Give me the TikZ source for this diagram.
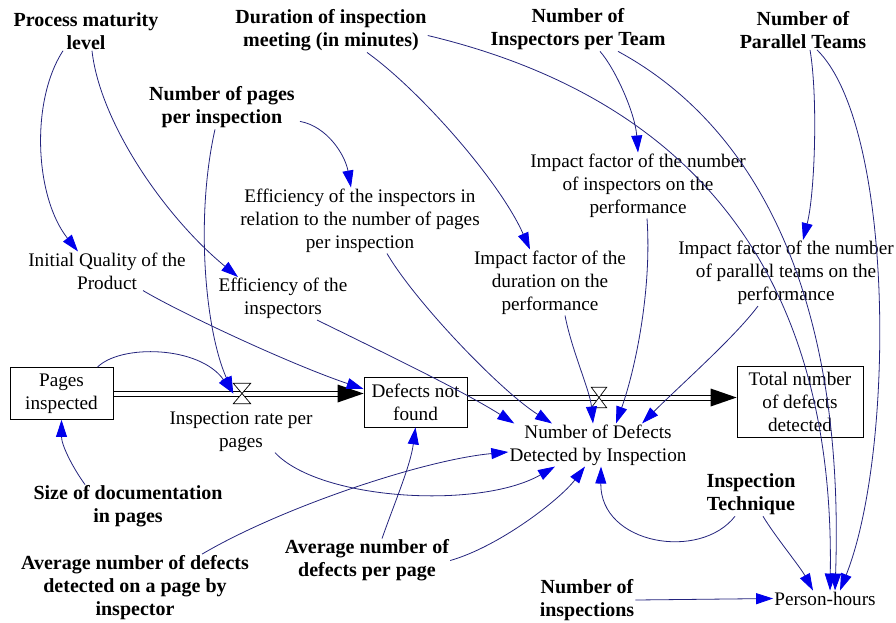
\documentclass[tikz,border=0pt]{standalone}
\usepackage{fontspec}
\setmainfont{Liberation Serif}
\usetikzlibrary{arrows.meta}

\definecolor{linkblue}{RGB}{35,35,125}
\definecolor{headblue}{RGB}{0,0,235}

\tikzset{
  aux/.style={align=center, inner sep=1pt, font=\fontsize{19.2}{23}\selectfont},
  param/.style={align=center, inner sep=1pt, font=\fontsize{20}{23}\selectfont\bfseries},
  stock/.style={draw, line width=0.8pt, align=center, inner sep=1pt, font=\fontsize{19.2}{23}\selectfont},
  pipeline/.style={draw=black, line width=0.8pt},
  valve/.style={minimum width=#1, minimum height=20pt, inner sep=0pt},
  link/.style={draw=linkblue, line width=0.8pt, -{Triangle[length=17pt,width=11pt,color=headblue]}},
}

\begin{document}
\begin{tikzpicture}[x=1pt,y=-1pt]
  \useasboundingbox (0,0) rectangle (896,622);

  % Constants
  \node[param] (pml)  at (86,31)    {Process maturity\\level};
  \node[param] (dur)  at (331,30.5) {Duration of inspection\\meeting (in minutes)};
  \node[param] (nit)  at (578,29.5) {Number of\\Inspectors per Team};
  \node[param] (npt)  at (803,30)   {Number of\\Parallel Teams};
  \node[param] (npp)  at (222,107.5) {Number of pages\\per inspection};
  \node[param] (sdp)  at (128,506.5) {Size of documentation\\in pages};
  \node[param] (andp) at (135,587.5) {Average number of defects\\detected on a page by\\inspector};
  \node[param] (anp)  at (367,560.5) {Average number of\\defects per page};
  \node[param] (it)   at (751,494.5) {Inspection\\Technique};
  \node[param] (ni)   at (587,600)   {Number of\\inspections};

  % Auxiliaries
  \node[aux] (eir) at (360,220.5) {Efficiency of the inspectors in\\relation to the number of pages\\per inspection};
  \node[aux] (ifn) at (638,185.5) {Impact factor of the number\\of inspectors on the\\performance};
  \node[aux] (iqp) at (107,271)   {Initial Quality of the\\Product};
  \node[aux] (ei)  at (283,298.5) {Efficiency of the\\inspectors};
  \node[aux] (ifd) at (550,282.5) {Impact factor of the\\duration on the\\performance};
  \node[aux] (ifp) at (786,273)   {Impact factor of the number\\of parallel teams on the\\performance};
  \node[aux] (irp) at (241,431.5) {Inspection rate per\\pages};
  \node[aux] (ndd) at (598,445)   {Number of Defects\\Detected by Inspection};
  \node[aux] (ph)  at (825,598.5) {Person-hours};

  % Stocks
  \node[stock, minimum width=103pt, minimum height=52pt] (pi)  at (61.5,393.5) {Pages\\inspected};
  \node[stock, minimum width=103pt, minimum height=50pt] (dnf) at (415.5,402)  {Defects not\\found};
  \node[stock, minimum width=126pt, minimum height=71pt] (tnd) at (800,401.5)  {Total number\\of defects\\detected};

  % Flow 1: pages inspected -> defects not found
  \coordinate (f1b) at (pi.east -| dnf.west);
  \draw[pipeline] ([yshift=2.5pt]pi.east) -- ([xshift=-20pt,yshift=2.5pt]f1b);
  \draw[pipeline] ([yshift=-2.5pt]pi.east) -- ([xshift=-20pt,yshift=-2.5pt]f1b);
  \fill ([xshift=-26pt,yshift=9pt]f1b) -- (f1b) -- ([xshift=-26pt,yshift=-9pt]f1b) -- cycle;
  \node[valve=17pt] (v1) at (242,393.5) {};
  \draw[fill=white, line width=0.7pt] (v1.north west) -- (v1.north east) -- (v1.south west) -- (v1.south east) -- cycle;

  % Flow 2: defects not found -> total detected
  \coordinate (f2a) at ([yshift=4.5pt]dnf.east);
  \coordinate (f2b) at (f2a -| tnd.west);
  \draw[pipeline] ([yshift=2.5pt]f2a) -- ([xshift=-20pt,yshift=2.5pt]f2b);
  \draw[pipeline] ([yshift=-2.5pt]f2a) -- ([xshift=-20pt,yshift=-2.5pt]f2b);
  \fill ([xshift=-26pt,yshift=9pt]f2b) -- (f2b) -- ([xshift=-26pt,yshift=-9pt]f2b) -- cycle;
  \node[valve=15pt] (v2) at (599,397.5) {};
  \draw[fill=white, line width=0.7pt] (v2.north west) -- (v2.north east) -- (v2.south west) -- (v2.south east) -- cycle;

  % Links from the top row
  \draw[link] ([xshift=-23pt]pml.south) .. controls +(-33,51) and +(-43,-54) .. ([xshift=-29pt]iqp.north);
  \draw[link] ([xshift=6pt]pml.south) .. controls +(8,72) and +(-73,-60) .. ([xshift=-45pt]ei.north);
  \draw[link] ([xshift=36pt]dur.south) .. controls +(53,38) and +(-30,-68) .. ([xshift=-20pt]ifd.north);
  \draw[link] ([yshift=-5pt]dur.east) .. controls +(272,65) and +(5,-309) .. ([xshift=5pt]ph.north);
  \draw[link] ([xshift=22pt]nit.south) .. controls +(15,17) and +(-3,-40) .. (ifn.north);
  \draw[link] ([xshift=40pt]nit.south) .. controls +(142,77) and +(10,-289) .. ([xshift=10pt]ph.north);
  \draw[link] ([xshift=7pt]npt.south) .. controls +(8,47) and +(12,-47) .. ([xshift=17pt]ifp.north);
  \draw[link] ([xshift=14pt]npt.south) .. controls +(78,77) and +(55,-139) .. ([xshift=15pt]ph.north);
  \draw[link] ([xshift=-7pt]npp.south) .. controls +(-20,89) and +(-28,-63) .. (v1.west);
  \draw[link] ([xshift=4pt,yshift=8pt]npp.south east) .. controls +(27,5) and +(-6,-33) .. ([xshift=-9pt]eir.north);

  % Links into the flows and stocks
  \draw[link] ([xshift=36pt]pi.north) .. controls +(23,-23) and +(-34,-48) .. (v1.west);
  \draw[link] ([xshift=36pt]iqp.south) .. controls +(37,22) and +(-74,-25) .. ([yshift=13pt]dnf.west);
  \draw[link] ([xshift=-43pt]sdp.north) .. controls +(-13,-18) and +(0,25) .. (pi.south);
  \draw[link] ([xshift=15pt]anp.north) .. controls +(13,-37) and +(-5,38) .. (dnf.south);

  % Links into the number of defects detected
  \draw[link] ([xshift=27pt]eir.south) .. controls +(28,48) and +(-52,-33) .. ([xshift=-46pt]ndd.north);
  \draw[link] ([xshift=9pt]ifn.south) .. controls +(5,72) and +(19,-53) .. ([xshift=18pt]ndd.north);
  \draw[link] ([xshift=15pt]ifd.south) .. controls +(7,36) and +(-3,-33) .. ([xshift=-5pt]ndd.north);
  \draw[link] ([xshift=-28pt]ifp.south) .. controls +(-23,31) and +(38,-38) .. ([xshift=44pt]ndd.north);
  \draw[link] ([xshift=34pt]ei.south) .. controls +(63,31) and +(-52,-33) .. ([xshift=6pt]ndd.north west);
  \draw[link] ([xshift=34pt]irp.south) .. controls +(45,48) and +(-75,43) .. ([xshift=-43pt]ndd.south);
  \draw[link] ([xshift=67pt]andp.north) .. controls +(78,-46) and +(-86,8) .. ([yshift=-7pt]ndd.west);
  \draw[link] (anp.east) .. controls +(49,-14) and +(-25,33) .. ([xshift=-13pt]ndd.south);
  \draw[link] ([xshift=-16pt]it.south) .. controls +(-35,45) and +(-1,78) .. ([xshift=3pt]ndd.south);

  % Links into person-hours
  \draw[link] ([xshift=12pt]it.south) .. controls +(12,20) and +(-13,-24) .. ([xshift=-12pt]ph.north);
  \draw[link] (ni.east) -- (ph.west);
\end{tikzpicture}
\end{document}
